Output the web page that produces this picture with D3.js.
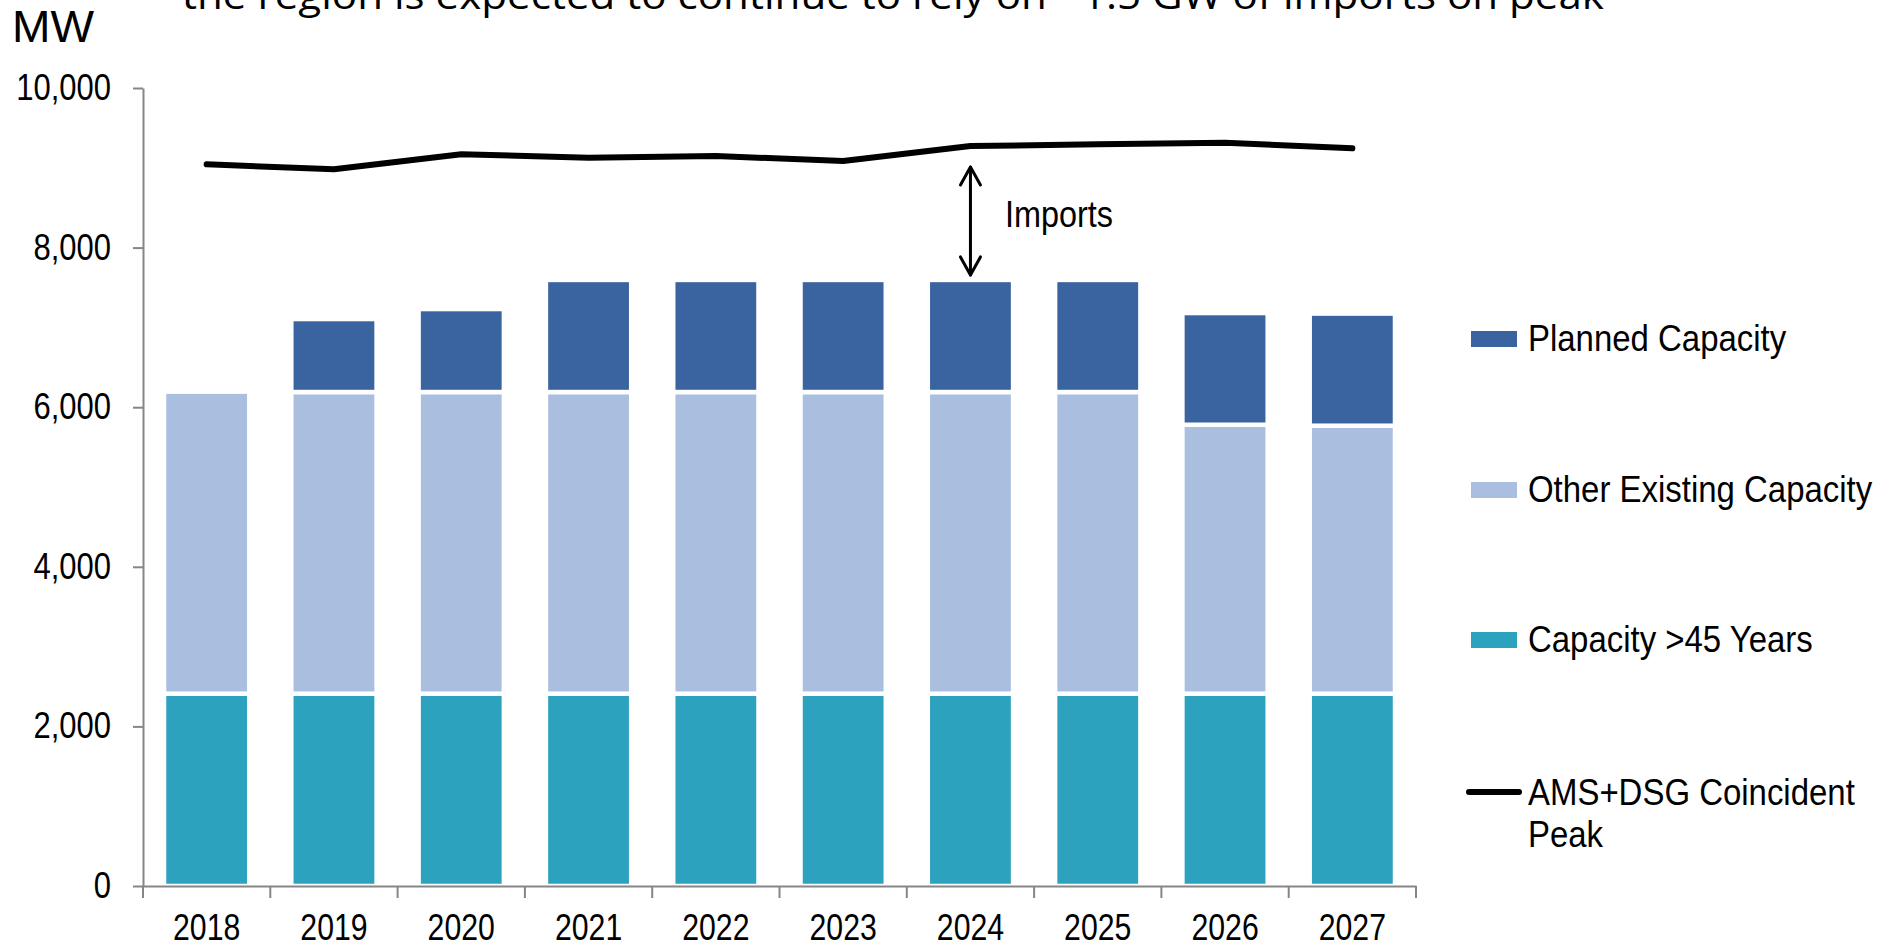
<!DOCTYPE html>
<html><head><meta charset="utf-8">
<script src="https://cdn.jsdelivr.net/npm/d3@7"></script>
<style>
body{margin:0;background:#fff;}
svg{display:block;}
</style>
</head><body>
<svg id="chart" width="1898" height="945"></svg>
<script>
// ---- data ----
const years = ["2018","2019","2020","2021","2022","2023","2024","2025","2026","2027"];
const capacityOver45 = [2410,2410,2410,2410,2410,2410,2410,2410,2410,2410];
const otherExisting  = [3785,3780,3780,3780,3780,3780,3780,3780,3370,3358];
const plannedCapacity = [0,915,1040,1405,1405,1405,1405,1405,1400,1405];
const coincidentPeak = [9044,8981,9169,9127,9148,9085,9273,9294,9315,9244];
const yTicks = [0,2000,4000,6000,8000,10000];
const seriesNames = ["Capacity >45 Years","Other Existing Capacity","Planned Capacity"];
const seriesColors = ["#2DA2BF","#AABFDF","#3A64A0"];
const peakName = ["AMS+DSG Coincident","Peak"];
const yAxisTitle = "MW";
const importsLabel = "Imports";
const importsYear = "2024";
const titleText = "the region is expected to continue to rely on ~1.5 GW of imports on peak";

// ---- layout ----
const svg = d3.select("#chart");
const mLeft = 143, mRight = 1416, mTop = 88, mBottom = 886;
const sans = "'Liberation Sans',Arial,sans-serif";

// compress glyphs horizontally to imitate a condensed face
function condense(sel, factor) {
  sel.each(function() {
    const w = this.getComputedTextLength();
    d3.select(this).attr("textLength", w * factor).attr("lengthAdjust", "spacingAndGlyphs");
  });
}

const x = d3.scaleBand().domain(years).range([mLeft, mRight]).paddingInner(0.33).paddingOuter(0.165);
const y = d3.scaleLinear().domain([0, 10000]).range([mBottom, mTop]);

// title (cut off at top)
svg.append("text").attr("x", 182).attr("y", 9)
  .attr("font-family", "'Open Sans',sans-serif").attr("font-size", 38)
  .attr("textLength", 1422).attr("lengthAdjust", "spacingAndGlyphs")
  .attr("fill", "#000").text(titleText);

// MW
svg.append("text").attr("x", 12).attr("y", 42)
  .attr("font-family", sans).attr("font-size", 44)
  .attr("textLength", 82).attr("lengthAdjust", "spacingAndGlyphs")
  .attr("fill", "#000").text(yAxisTitle);

// stacked data
const rows = years.map((yr, i) => ({year: yr, s0: capacityOver45[i], s1: otherExisting[i], s2: plannedCapacity[i]}));
const stack = d3.stack().keys(["s0","s1","s2"]);
const layers = stack(rows);

const g = svg.append("g");
layers.forEach((layer, li) => {
  g.selectAll(null).data(layer.filter(d => d[1] - d[0] > 0)).enter().append("rect")
    .attr("x", d => x(d.data.year))
    .attr("width", x.bandwidth())
    .attr("y", d => y(d[1]))
    .attr("height", d => y(d[0]) - y(d[1]))
    .attr("fill", seriesColors[li])
    .attr("stroke", "#fff").attr("stroke-width", 4.5);
});

// y axis
const yAxis = d3.axisLeft(y).tickValues(yTicks).tickSize(10).tickSizeOuter(0).tickPadding(22)
  .tickFormat(d3.format(","));
const gy = svg.append("g").attr("transform", `translate(${mLeft},0)`).call(yAxis);
gy.select(".domain").attr("stroke", "#868686").attr("stroke-width", 2);
gy.selectAll(".tick line").attr("stroke", "#868686").attr("stroke-width", 2);
gy.selectAll(".tick text").attr("font-family", sans).attr("font-size", 36).attr("fill", "#000");
condense(gy.selectAll(".tick text"), 0.86);

// x axis
const xAxis = d3.axisBottom(x).tickSize(0).tickSizeOuter(0);
const gx = svg.append("g").attr("transform", `translate(0,${mBottom})`).call(xAxis);
gx.select(".domain").attr("stroke", "#868686").attr("stroke-width", 2);
gx.selectAll(".tick text").attr("font-family", sans).attr("font-size", 36).attr("fill", "#000")
  .attr("y", 54).attr("dy", 0);
condense(gx.selectAll(".tick text"), 0.84);
// category boundary ticks
const bounds = d3.range(years.length + 1).map(i => mLeft + i * x.step());
gx.selectAll(".bt").data(bounds).enter().append("line")
  .attr("x1", d => d).attr("x2", d => d).attr("y1", 0).attr("y2", 12)
  .attr("stroke", "#868686").attr("stroke-width", 2);

// peak line
const line = d3.line().x((d, i) => x(years[i]) + x.bandwidth() / 2).y(d => y(d));
svg.append("path").datum(coincidentPeak).attr("d", line)
  .attr("fill", "none").attr("stroke", "#000").attr("stroke-width", 6)
  .attr("stroke-linecap", "round").attr("stroke-linejoin", "round");

// imports arrow
const ii = years.indexOf(importsYear);
const ax = x(importsYear) + x.bandwidth() / 2;
const aTop = y(coincidentPeak[ii]) + 21;
const aBot = y(capacityOver45[ii] + otherExisting[ii] + plannedCapacity[ii]) - 5;
const arrow = svg.append("g").attr("stroke", "#000").attr("stroke-width", 3).attr("fill", "none")
  .attr("stroke-linecap", "round").attr("stroke-linejoin", "round");
arrow.append("line").attr("x1", ax).attr("x2", ax).attr("y1", aTop).attr("y2", aBot);
arrow.append("path").attr("d", `M${ax - 10},${aTop + 18}L${ax},${aTop}L${ax + 10},${aTop + 18}`);
arrow.append("path").attr("d", `M${ax - 10},${aBot - 18}L${ax},${aBot}L${ax + 10},${aBot - 18}`);
const imp = svg.append("text").attr("x", 1005).attr("y", 227)
  .attr("font-family", sans).attr("font-size", 36)
  .attr("fill", "#000").text(importsLabel);
condense(imp, 0.9);

// legend
const legendFont = 36;
const legendItems = [
  {name: seriesNames[2], color: seriesColors[2], cy: 339},
  {name: seriesNames[1], color: seriesColors[1], cy: 490},
  {name: seriesNames[0], color: seriesColors[0], cy: 640}
];
const lg = svg.append("g");
legendItems.forEach(it => {
  lg.append("rect").attr("x", 1471).attr("y", it.cy - 8).attr("width", 46).attr("height", 16).attr("fill", it.color);
  lg.append("text").attr("class", "lt").attr("x", 1528).attr("y", it.cy + 12)
    .attr("font-family", sans).attr("font-size", legendFont)
    .attr("fill", "#000").text(it.name);
});
lg.append("line").attr("x1", 1469).attr("x2", 1519).attr("y1", 792).attr("y2", 792)
  .attr("stroke", "#000").attr("stroke-width", 6).attr("stroke-linecap", "round");
lg.append("text").attr("class", "lt").attr("x", 1528).attr("y", 805)
  .attr("font-family", sans).attr("font-size", legendFont)
  .attr("fill", "#000").text(peakName[0]);
lg.append("text").attr("class", "lt").attr("x", 1528).attr("y", 847)
  .attr("font-family", sans).attr("font-size", legendFont)
  .attr("fill", "#000").text(peakName[1]);
condense(lg.selectAll(".lt"), 0.915);
</script>
</body></html>
